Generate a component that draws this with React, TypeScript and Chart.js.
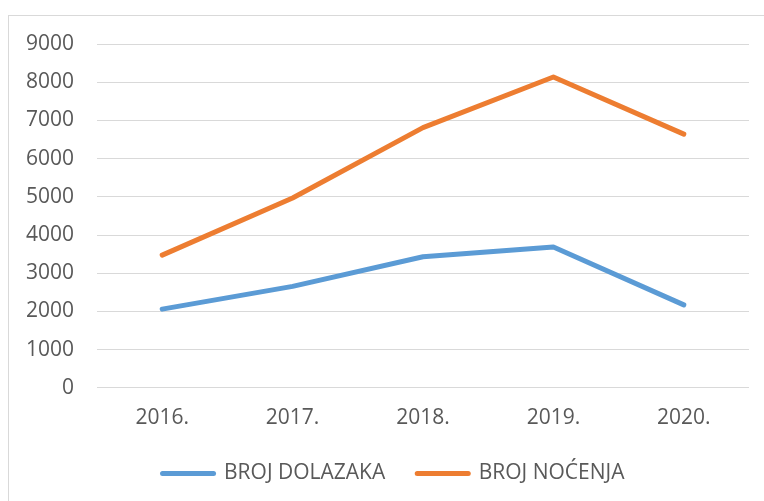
import React, { useEffect, useRef } from "react";
import { Chart, registerables } from "chart.js";

Chart.register(...registerables);

const categories = ["2016.", "2017.", "2018.", "2019.", "2020."];
const dolasci = [2060, 2655, 3430, 3685, 2170];
const nocenja = [3474, 4970, 6810, 8135, 6640];
const seriesNames = ["BROJ DOLAZAKA", "BROJ NOĆENJA"];
const yTicks = { min: 0, max: 9000, step: 1000 };

const BLUE = "#5B9BD5";
const ORANGE = "#ED7D31";
const TEXT = "#595959";
const GRID = "#d9d9d9";
const FONT = "'Open Sans', 'Noto Sans', sans-serif";

const framePlugin = {
  id: "frame",
  afterUpdate(chart: any) {
    if (chart.legend) {
      chart.legend.left = 38;
    }
  },
  beforeDraw(chart: any) {
    const ctx = chart.ctx;
    ctx.save();
    ctx.fillStyle = "#ffffff";
    ctx.fillRect(0, 0, chart.width, chart.height);
    ctx.strokeStyle = GRID;
    ctx.lineWidth = 1;
    ctx.strokeRect(8.5, 15.5, chart.width + 50, chart.height + 50);
    ctx.restore();
  },
};

export default function App() {
  const ref = useRef<HTMLCanvasElement | null>(null);
  useEffect(() => {
    if (!ref.current) return;
    const chart = new Chart(ref.current, {
      type: "line",
      data: {
        labels: categories,
        datasets: [
          {
            label: seriesNames[0],
            data: dolasci,
            borderColor: BLUE,
            backgroundColor: BLUE,
            borderWidth: 5,
            borderCapStyle: "round",
            borderJoinStyle: "round",
            pointRadius: 0,
            tension: 0,
          },
          {
            label: seriesNames[1],
            data: nocenja,
            borderColor: ORANGE,
            backgroundColor: ORANGE,
            borderWidth: 5,
            borderCapStyle: "round",
            borderJoinStyle: "round",
            pointRadius: 0,
            tension: 0,
          },
        ],
      },
      options: {
        animation: false,
        responsive: false,
        maintainAspectRatio: false,
        layout: { padding: { left: 0, right: 15, top: 44, bottom: 7 } },
        plugins: {
          tooltip: { enabled: false },
          legend: {
            position: "bottom",
            labels: {
              color: TEXT,
              font: { family: FONT, size: 21 },
              usePointStyle: true,
              pointStyleWidth: 51,
              padding: 32,
              generateLabels: (c: any) =>
                c.data.datasets.map((ds: any, i: number) => ({
                  text: ds.label,
                  fillStyle: ds.borderColor,
                  strokeStyle: ds.borderColor,
                  lineWidth: 5,
                  lineCap: "round",
                  pointStyle: "line",
                  hidden: false,
                  datasetIndex: i,
                  fontColor: TEXT,
                })),
            },
          },
        },
        scales: {
          x: {
            offset: true,
            afterFit: (s: any) => {
              s.height = s.height - 18;
            },
            grid: { display: false, drawTicks: false },
            border: { display: false },
            ticks: { color: TEXT, font: { family: FONT, size: 21 }, padding: 18 },
          },
          y: {
            min: yTicks.min,
            max: yTicks.max,
            afterFit: (s: any) => {
              s.width = 97;
            },
            grid: { color: GRID, lineWidth: 1, drawTicks: false },
            border: { display: false },
            ticks: {
              stepSize: yTicks.step,
              color: TEXT,
              font: { family: FONT, size: 21 },
              padding: 23,
              callback: (v: any) => String(v),
            },
          },
        },
      },
      plugins: [framePlugin],
    });
    return () => chart.destroy();
  }, []);
  return (
    <div style={{ position: "fixed", left: 0, top: 0, width: 764, height: 501, background: "#fff" }}>
      <canvas ref={ref} width={764} height={501} style={{ display: "block" }} />
    </div>
  );
}
